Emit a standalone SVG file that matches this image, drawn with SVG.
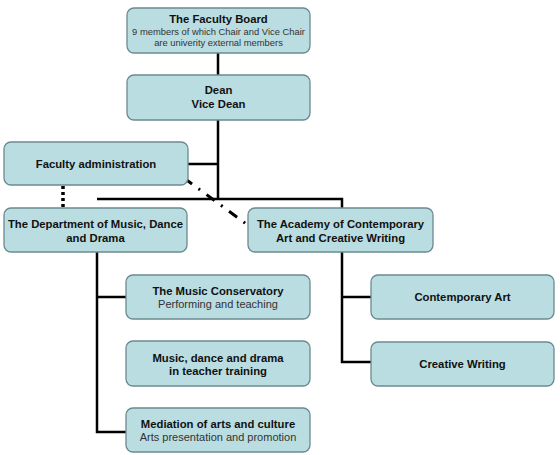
<svg xmlns="http://www.w3.org/2000/svg" width="560" height="455" viewBox="0 0 560 455">
<style>
.box{fill:#b9dde1;stroke:#6b8a90;stroke-width:1.3}
.t{font-family:"Liberation Sans",Arial,sans-serif;font-size:11.3px;font-weight:bold;fill:#111;text-anchor:middle}
.s{font-family:"Liberation Sans",Arial,sans-serif;font-size:11px;fill:#333;text-anchor:middle}
.s9{font-family:"Liberation Sans",Arial,sans-serif;font-size:9.4px;fill:#333;text-anchor:middle}
.ln{fill:none;stroke:#000;stroke-width:2.5}
</style>
<rect width="560" height="455" fill="#fff"/>
<g id="connectors">
<path class="ln" d="M218 53V75M218 120V199M188 164H218M97 199H342V208M97 252V432H126M97 297H126M342 252V362H371M342 297H371"/>
<path d="M63 186V208" fill="none" stroke="#000" stroke-width="3.5" stroke-dasharray="3 3"/>
<path d="M184 178L249 226" fill="none" stroke="#000" stroke-width="3" stroke-dasharray="10 8 2 8"/>
</g>
<g id="faculty-board"><rect class="box" x="127" y="8" width="183" height="45" rx="7"/>
<text class="t" x="218.5" y="23">The Faculty Board</text>
<text class="s9" x="218.5" y="35">9 members of which Chair and Vice Chair</text>
<text class="s9" x="218.5" y="46">are univerity external members</text></g>
<g id="dean"><rect class="box" x="127" y="75" width="183" height="45" rx="7"/>
<text class="t" x="218.5" y="94">Dean</text>
<text class="t" x="218.5" y="108">Vice Dean</text></g>
<g id="faculty-admin"><rect class="box" x="4" y="142" width="184" height="43" rx="7"/>
<text class="t" x="96" y="168">Faculty administration</text></g>
<g id="dept-music"><rect class="box" x="4" y="208" width="183" height="44" rx="7"/>
<text class="t" x="95.5" y="228">The Department of Music, Dance</text>
<text class="t" x="95.5" y="242">and Drama</text></g>
<g id="academy"><rect class="box" x="248" y="208" width="185" height="44" rx="7"/>
<text class="t" x="340.5" y="228">The Academy of Contemporary</text>
<text class="t" x="340.5" y="242">Art and Creative Writing</text></g>
<g id="conservatory"><rect class="box" x="126" y="275" width="184" height="44" rx="7"/>
<text class="t" x="218" y="295">The Music Conservatory</text>
<text class="s" x="218" y="308">Performing and teaching</text></g>
<g id="teacher-training"><rect class="box" x="126" y="341" width="184" height="45" rx="7"/>
<text class="t" x="218" y="362">Music, dance and drama</text>
<text class="t" x="218" y="375">in teacher training</text></g>
<g id="mediation"><rect class="box" x="126" y="408" width="184" height="44" rx="7"/>
<text class="t" x="218" y="428">Mediation of arts and culture</text>
<text class="s" x="218" y="441">Arts presentation and promotion</text></g>
<g id="contemporary-art"><rect class="box" x="371" y="275" width="183" height="44" rx="7"/>
<text class="t" x="462.5" y="301">Contemporary Art</text></g>
<g id="creative-writing"><rect class="box" x="371" y="342" width="183" height="44" rx="7"/>
<text class="t" x="462.5" y="368">Creative Writing</text></g>
</svg>
